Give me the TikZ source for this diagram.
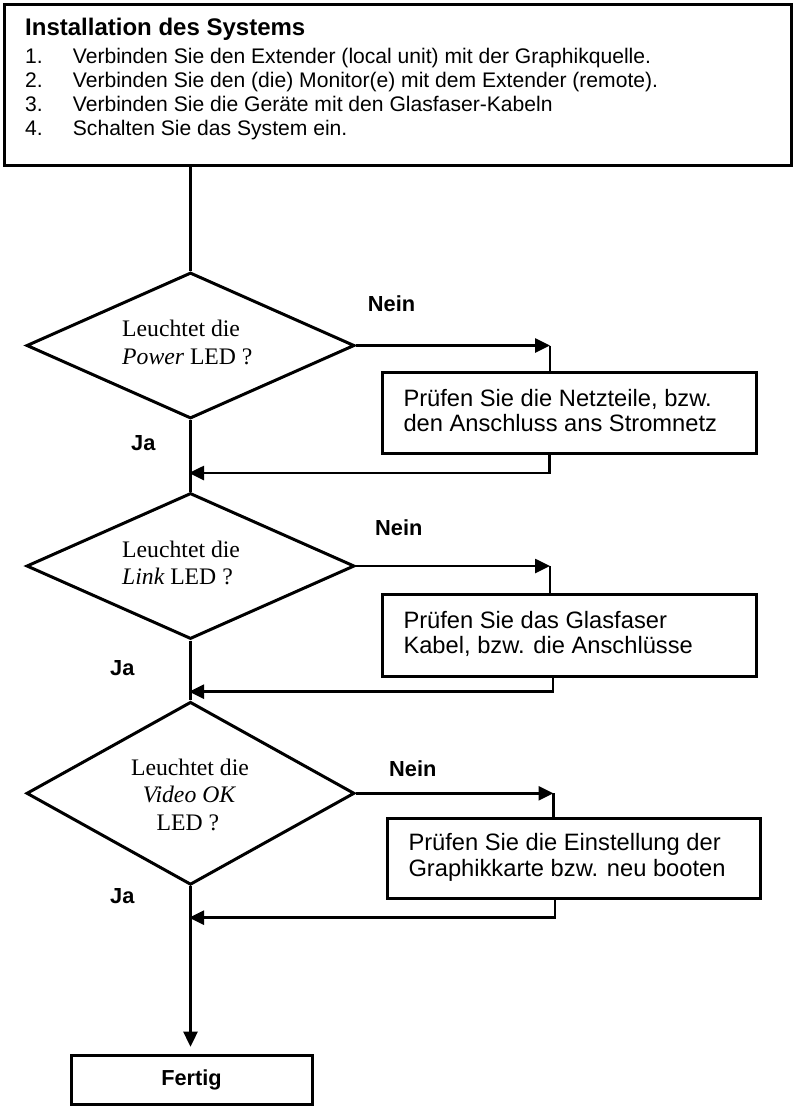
\documentclass[tikz,border=0pt]{standalone}
\usepackage{fontspec}
\setmainfont{Liberation Sans}
\newfontfamily\timesf{Liberation Serif}
\usetikzlibrary{shapes.geometric,arrows.meta}
\begin{document}
\begin{tikzpicture}[x=1pt,y=-1pt,
  box/.style={draw, line width=3pt, rectangle, inner sep=0pt, anchor=north west},
  dia/.style={draw, line width=3pt, diamond, inner sep=0pt, minimum width=328pt},
  conn/.style={line width=2.6pt},
  arr/.style={line width=2.6pt, -{Triangle[length=15pt,width=14pt]}},
  ttl/.style={anchor=base west, inner sep=0pt, font=\bfseries\fontsize{24}{28}\selectfont},
  lst/.style={anchor=base west, inner sep=0pt, font=\fontsize{21.1}{24}\selectfont},
  btxt/.style={anchor=base west, inner sep=0pt, font=\fontsize{23.7}{28}\selectfont},
  dtxt/.style={inner sep=0pt, font=\timesf\fontsize{23.7}{28}\selectfont},
  lab/.style={anchor=base west, inner sep=0pt, font=\bfseries\fontsize{21.8}{26}\selectfont}
]
\useasboundingbox (0,0) rectangle (793,1106);

% top box
\node[box, minimum width=787.5pt, minimum height=161pt] (top) at (2.5,3) {};
\node[ttl] (title) at (25,35.5) {Installation des Systems};
\node[lst] (n1) at (25,63) {1.};
\node[lst] (t1) at (72.7,63) {Verbinden Sie den Extender (local unit) mit der Graphikquelle.};
\node[lst] (n2) at (25,87) {2.};
\node[lst] (t2) at (72.7,87) {Verbinden Sie den (die) Monitor(e) mit dem Extender (remote).};
\node[lst] (n3) at (25,111) {3.};
\node[lst] (t3) at (72.7,111) {Verbinden Sie die Geräte mit den Glasfaser-Kabeln};
\node[lst] (n4) at (25,135) {4.};
\node[lst] (t4) at (72.7,135) {Schalten Sie das System ein.};

% diamonds
\node[dia, minimum height=146pt] (d1) at (190.5,345.5) {};
\node[dtxt, anchor=base west] (d1a) at (122,336.5) {Leuchtet die};
\node[dtxt, anchor=base west] (d1b) at (122,364) {\itshape Power\upshape{} LED ?};

\node[dia, minimum height=146pt] (d2) at (190.5,566) {};
\node[dtxt, anchor=base west] (d2a) at (122,557) {Leuchtet die};
\node[dtxt, anchor=base west] (d2b) at (122,584.5) {\itshape Link\upshape{} LED ?};

\node[dia, minimum height=183pt] (d3) at (190.5,793.3) {};
\node[dtxt, anchor=base] (d3a) at (190,775.3) {Leuchtet die};
\node[dtxt, anchor=base] (d3b) at (189,802.3) {\itshape Video OK};
\node[dtxt, anchor=base] (d3c) at (188,830) {LED ?};

% boxes
\node[box, minimum width=374pt, minimum height=81pt] (b1) at (381,370.7) {};
\node[btxt] (b1a) at (403.3,406.5) {Prüfen Sie die Netzteile, bzw.};
\node[btxt] (b1b) at (403.3,431.7) {den Anschluss ans Stromnetz};

\node[box, minimum width=374.3pt, minimum height=82.3pt] (b2) at (380.7,592.7) {};
\node[btxt] (b2a) at (403.3,628.3) {Prüfen Sie das Glasfaser};
\node[btxt] (b2b) at (403.3,653.3) {Kabel, bzw. die Anschlüsse};

\node[box, minimum width=373.3pt, minimum height=80.6pt] (b3) at (386,816.7) {};
\node[btxt] (b3a) at (408.3,850) {Prüfen Sie die Einstellung der};
\node[btxt] (b3b) at (408.3,876.7) {Graphikkarte bzw. neu booten};

\node[box, minimum width=241.6pt, minimum height=48.4pt] (fertig) at (69.7,1054.3) {};
\node[inner sep=0pt, anchor=base, font=\bfseries\fontsize{21.7}{26}\selectfont] (fertigt) at (191.5,1085.5) {Fertig};

% labels
\node[lab] (nein1) at (367.7,311.7) {Nein};
\node[lab] (nein2) at (375,535) {Nein};
\node[lab] (nein3) at (389,776) {Nein};
\node[lab] (ja1) at (131,450) {Ja};
\node[lab] (ja2) at (110,675) {Ja};
\node[lab] (ja3) at (110,903) {Ja};

% connector corners
\coordinate (c1) at (550,345.5);
\coordinate (r1) at (549.5,473);
\coordinate (c2) at (550,566);
\coordinate (r2) at (553,691.7);
\coordinate (c3) at (553.5,793.3);
\coordinate (r3) at (555,917.7);

% connectors
\draw[conn] (top.south -| d1.north) -- (d1.north);
\draw[arr] (d1.east) -- (c1);
\draw[conn] (c1) -- (c1 |- b1.north);
\draw[arr, shorten >=-1.5pt] (b1.south -| r1) -- (r1) -- (r1 -| d1.south);
\draw[conn] (d1.south) -- (d2.north);

\draw[arr] (d2.east) -- (c2);
\draw[conn] (c2) -- (c2 |- b2.north);
\draw[arr, shorten >=-1.5pt] (b2.south -| r2) -- (r2) -- (r2 -| d2.south);
\draw[conn] (d2.south) -- (d3.north);

\draw[arr] (d3.east) -- (c3);
\draw[conn] (c3) -- (c3 |- b3.north);
\draw[arr, shorten >=-1.5pt] (b3.south -| r3) -- (r3) -- (r3 -| d3.south);
\draw[arr, shorten >=7.6pt] (d3.south) -- (d3.south |- fertig.north);
\end{tikzpicture}
\end{document}
